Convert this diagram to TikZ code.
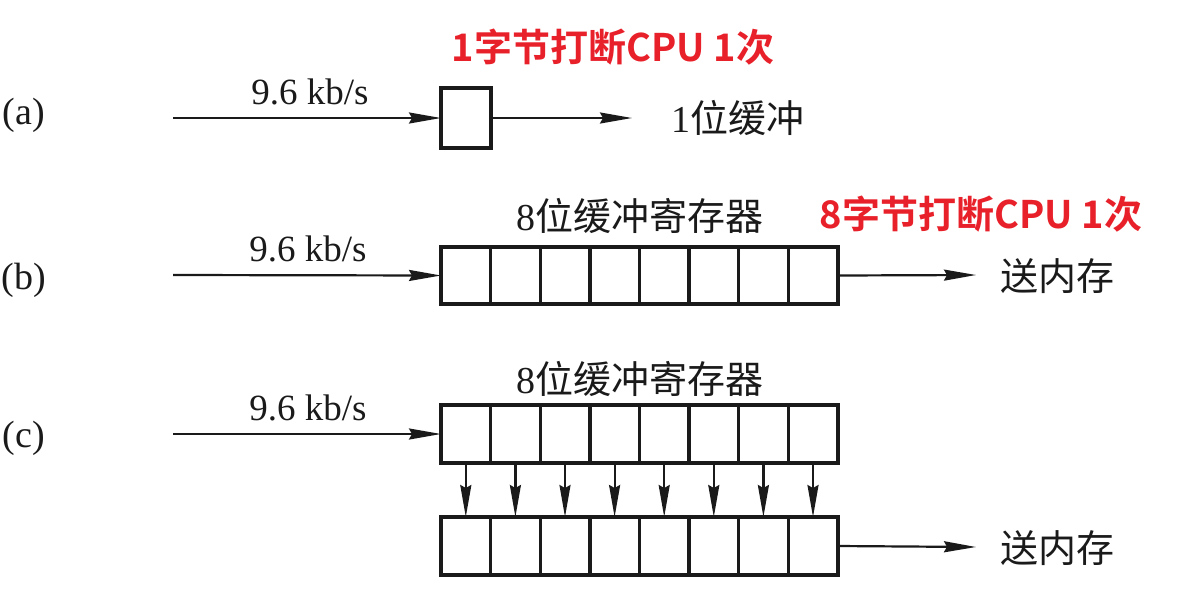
\documentclass[tikz,border=0pt]{standalone}
\usepackage{fontspec}
\setmainfont{Liberation Serif}
\newfontfamily\cjk{Noto Sans CJK SC}
\newfontfamily\cjkb{Noto Sans CJK SC}[BoldFont={Noto Sans CJK SC Bold}]
\usetikzlibrary{arrows.meta}
\definecolor{ink}{HTML}{1A1A1A}
\definecolor{hot}{HTML}{E8202A}
\tikzset{
  cell/.style={draw=ink, line width=3.4pt, minimum width=49.6pt, minimum height=57pt, inner sep=0pt, outer sep=0pt},
  arr/.style={draw=ink, line width=2.2pt, -{Stealth[length=32pt,width=11pt,inset=3pt]}},
  lbl/.style={text=ink, font=\fontsize{38}{40}\selectfont, inner sep=0pt},
  rate/.style={text=ink, font=\fontsize{37}{40}\selectfont, inner sep=0pt, anchor=base},
  cjklbl/.style={text=ink, font=\fontsize{38}{40}\selectfont, inner sep=0pt},
  note/.style={text=hot, font=\cjkb\bfseries\fontsize{38}{40}\selectfont, inner sep=0pt}
}
\begin{document}
\begin{tikzpicture}[x=1pt,y=-1pt]
\useasboundingbox (0,0) rectangle (1202,590);
% (a)
\node[lbl] (la) at (24,115) {(a)};
\coordinate (ain) at (173,118);
\node[cell, minimum width=50pt, minimum height=60pt] (abox) at (466,118) {};
\coordinate (aout) at (632,118);
\draw[arr] (ain) -- (abox.west);
\draw[arr] (abox.east) -- (aout);
\node[rate] (ra) at (310,104) {9.6 kb/s};
\node[cjklbl, anchor=west] (ta) at (671,118) {1{\cjk 位缓冲}};
\node[note] (na) at (613,47) {1字节打断CPU 1次};
% (b)
\node[lbl] (lb) at (24,280) {(b)};
\coordinate (bin) at (173,275);
\foreach \i in {1,...,8} \node[cell] (b\i) at ({441+49.6*(\i-0.5)},275.5) {};
\coordinate (bout) at (976,275);
\draw[arr] (bin) -- (b1.west);
\draw[arr] (b8.east) -- (bout);
\node[rate] (rb) at (308,261) {9.6 kb/s};
\node[cjklbl] (tb) at (640,216) {8{\cjk 位缓冲寄存器}};
\node[cjklbl, anchor=west] (sb) at (1000,276) {\cjk 送内存};
\node[note] (nb) at (981,214) {8字节打断CPU 1次};
% (c)
\node[lbl] (lc) at (24,438) {(c)};
\coordinate (cin) at (173,434);
\foreach \i in {1,...,8} \node[cell, minimum height=58pt] (ct\i) at ({441+49.6*(\i-0.5)},434) {};
\foreach \i in {1,...,8} \node[cell, minimum height=58pt] (cb\i) at ({441+49.6*(\i-0.5)},546) {};
\foreach \i in {1,...,8} \draw[arr] (ct\i.south) -- (cb\i.north);
\coordinate (cout) at (976,547);
\draw[arr] (cin) -- (ct1.west);
\draw[arr] (cb8.east) -- (cout);
\node[rate] (rc) at (308,420) {9.6 kb/s};
\node[cjklbl] (tc) at (640,379) {8{\cjk 位缓冲寄存器}};
\node[cjklbl, anchor=west] (sc) at (1000,548) {\cjk 送内存};
\end{tikzpicture}
\end{document}
